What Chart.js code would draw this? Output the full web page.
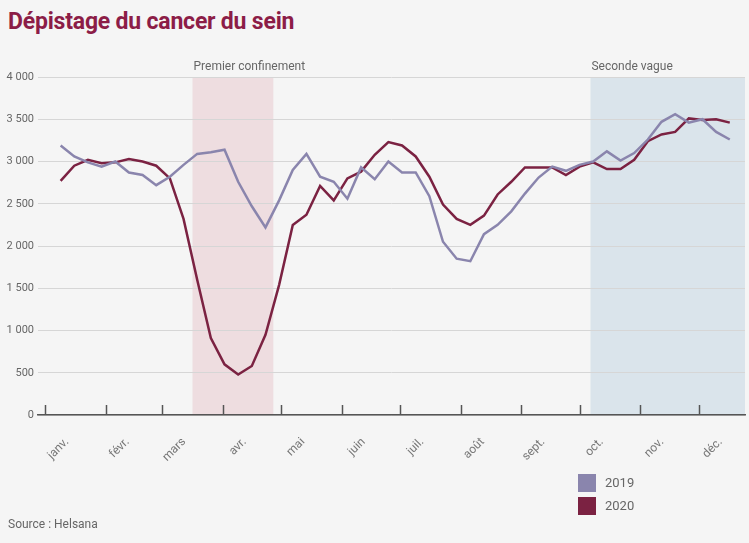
<!DOCTYPE html>
<html lang="fr">
<head>
<meta charset="utf-8">
<script src="https://cdn.jsdelivr.net/npm/chart.js@4/dist/chart.umd.min.js"></script>
<style>
  body { margin: 0; background: #f5f5f5; font-family: Roboto, "Noto Sans", sans-serif; }
  #wrap { position: relative; width: 749px; height: 543px; overflow: hidden; }
  #chart { position: absolute; left: 0; top: 0; }
  h1 { position: absolute; left: 8px; top: 8px; margin: 0; font-size: 23px; font-weight: 700; color: #8c1d47; letter-spacing: -0.2px; }
  #legend { position: absolute; left: 578px; top: 471px; font-size: 13px; color: #666; }
  #legend div { display: flex; align-items: center; height: 23px; }
  #legend span.box { width: 18px; height: 18px; margin-right: 9px; }
  #source { position: absolute; left: 8px; top: 517px; font-size: 12px; color: #666; }
</style>
</head>
<body>
<div id="wrap">
  <h1>Dépistage du cancer du sein</h1>
  <canvas id="chart" width="749" height="543"></canvas>
  <div id="legend"></div>
  <div id="source">Source : Helsana</div>
</div>
<script>
// mois (étiquettes de l'axe x) et jour de l'année où chacun commence (2020)
const monthLabels = ['janv.', 'févr.', 'mars', 'avr.', 'mai', 'juin', 'juil.', 'août', 'sept.', 'oct.', 'nov.', 'déc.'];
const monthStarts = [0, 31, 60, 91, 121, 152, 182, 213, 244, 274, 305, 335];

// semaines ISO 2 à 51 (jeudi de chaque semaine, en jour de l'année)
const weekDays = [8, 15, 22, 29, 36, 43, 50, 57, 64, 71, 78, 85, 92, 99, 106, 113, 120, 127, 134, 141,
  148, 155, 162, 169, 176, 183, 190, 197, 204, 211, 218, 225, 232, 239, 246, 253, 260, 267, 274, 281,
  288, 295, 302, 309, 316, 323, 330, 337, 344, 351];

const values2019 = [3190, 3060, 2990, 2940, 3000, 2870, 2840, 2720, 2820, 2960, 3090, 3110, 3140, 2760, 2470, 2220,
  2540, 2900, 3090, 2820, 2760, 2560, 2930, 2790, 3000, 2870, 2870, 2590, 2050, 1850, 1820, 2140,
  2250, 2410, 2620, 2810, 2940, 2890, 2960, 3000, 3120, 3010, 3100, 3260, 3470, 3560, 3460, 3500, 3350, 3260];

const values2020 = [2770, 2950, 3020, 2980, 2990, 3030, 3000, 2950, 2800, 2320, 1600, 910, 600, 480, 580, 950,
  1540, 2250, 2370, 2710, 2540, 2800, 2880, 3080, 3230, 3190, 3060, 2820, 2490, 2320, 2250, 2360,
  2610, 2760, 2930, 2930, 2930, 2840, 2940, 2990, 2910, 2910, 3020, 3240, 3320, 3350, 3510, 3490, 3500, 3460];

// périodes mises en évidence
const bandLabels = ['Premier confinement', 'Seconde vague'];
const bandStarts = [75.6, 279.6];
const bandEnds = [117, 358.8];

const fmt = v => String(v).replace(/\B(?=(\d{3})+(?!\d))/g, ' ');

const bandsPlugin = {
  id: 'bands',
  beforeDraw(chart, args, opts) {
    const { ctx, chartArea, scales: { x, y } } = chart;
    const top = y.getPixelForValue(4000), bottom = y.getPixelForValue(0);
    ctx.save();
    bandLabels.forEach((label, i) => {
      const x1 = x.getPixelForValue(bandStarts[i]);
      const x2 = x.getPixelForValue(bandEnds[i]);
      ctx.fillStyle = opts.colors[i];
      ctx.fillRect(x1, top, x2 - x1, bottom - top);
      ctx.fillStyle = '#666';
      ctx.font = '12px Roboto, "Noto Sans", sans-serif';
      ctx.textBaseline = 'middle';
      ctx.fillText(label, x1 + 1, chartArea.top - 10);
    });
    ctx.restore();
  },
  afterDraw(chart) {
    // petits traits des mois, au-dessus de l'axe
    const { ctx, scales: { x, y } } = chart;
    const base = y.getPixelForValue(0);
    ctx.save();
    ctx.strokeStyle = '#555';
    ctx.lineWidth = 1.5;
    monthStarts.forEach(d => {
      const px = Math.round(x.getPixelForValue(d)) + 0.5;
      ctx.beginPath();
      ctx.moveTo(px, base);
      ctx.lineTo(px, base - 10);
      ctx.stroke();
    });
    ctx.restore();
  }
};

const chart = new Chart(document.getElementById('chart'), {
  type: 'line',
  data: {
    datasets: [
      {
        label: '2019',
        data: weekDays.map((d, i) => ({ x: d, y: values2019[i] })),
        borderColor: '#8a85ad',
        backgroundColor: '#8a85ad',
        borderWidth: 2.5,
        pointRadius: 0,
        tension: 0
      },
      {
        label: '2020',
        data: weekDays.map((d, i) => ({ x: d, y: values2020[i] })),
        borderColor: '#7b2242',
        backgroundColor: '#7b2242',
        borderWidth: 2.5,
        pointRadius: 0,
        tension: 0
      }
    ]
  },
  options: {
    responsive: false,
    animation: false,
    layout: { padding: { top: 77, right: 4, left: 0, bottom: 0 } },
    plugins: {
      legend: { display: false },
      tooltip: { enabled: false },
      bands: { colors: ['rgba(232, 200, 206, 0.55)', 'rgba(200, 216, 228, 0.6)'] }
    },
    scales: {
      x: {
        type: 'linear',
        min: -3.6,
        max: 358.8,
        afterBuildTicks: scale => { scale.ticks = monthStarts.map(v => ({ value: v })); },
        afterFit: scale => { scale.height = 128; },
        grid: { display: false, drawTicks: false },
        border: { display: true, color: '#555', width: 1.5 },
        ticks: {
          autoSkip: false,
          minRotation: 45,
          maxRotation: 45,
          labelOffset: 22,
          padding: 20,
          color: '#777',
          font: { size: 12, family: 'Roboto' },
          callback: (v, i) => monthLabels[i]
        }
      },
      y: {
        min: 0,
        max: 4000,
        afterFit: scale => { scale.width = 38; },
        grid: { color: '#d6d6d6', lineWidth: 1, drawTicks: false },
        border: { display: false },
        ticks: {
          stepSize: 500,
          padding: 4,
          color: '#666',
          font: { size: 11, family: 'Roboto' },
          callback: v => fmt(v)
        }
      }
    }
  },
  plugins: [bandsPlugin]
});

// légende en HTML, tirée des séries
const legend = document.getElementById('legend');
chart.data.datasets.forEach(ds => {
  const row = document.createElement('div');
  row.innerHTML = '<span class="box" style="background:' + ds.borderColor + '"></span>' + ds.label;
  legend.appendChild(row);
});
</script>
</body>
</html>
